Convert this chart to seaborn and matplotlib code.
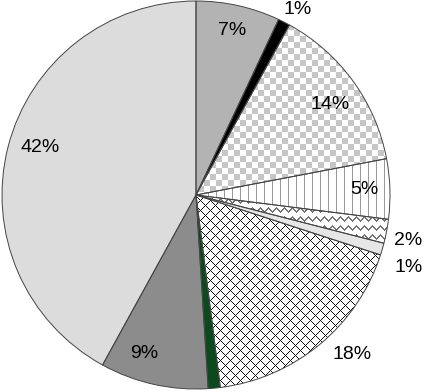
import matplotlib
matplotlib.use("Agg")
import matplotlib.pyplot as plt
import numpy as np
import seaborn as sns

# ----- data -------------------------------------------------------------------
SHARES = [7, 1, 14, 5, 2, 1, 18, 1, 9, 42]
LABELS = ["7%", "1%", "14%", "5%", "2%", "1%", "18%", "", "9%", "42%"]

# ----- style ------------------------------------------------------------------
FILLS = ["#b3b3b3", "#000000", "white", "white", "white", "#e6e6e6",
         "white", "#0b4a1c", "#8c8c8c", "#dcdcdc"]
TEXTURE = [None, None, "checker", "vlines", "zigzag", None, "diamond",
           None, None, None]
LABEL_R = [0.87, 1.09, 0.835, 0.866, 1.12, 1.16, 1.15, 0, 0.86, 0.84]
LABEL_SHIFT = [0.3, -1.6, -2.0, 0.2, -1.2, -2.7, 4.7, 0, -5.4, -2.6]

W, H = 425, 392
CX, CY, R = 196, 195, 194

sns.set_theme(style="white")
plt.rcParams["font.family"] = ["Liberation Sans", "DejaVu Sans"]


def texture(kind):
    yy, xx = np.mgrid[0:H, 0:W]
    img = np.ones((H, W, 4))
    if kind == "checker":
        mask = ((xx // 6) + (yy // 6)) % 2 == 0
        col = (0.78, 0.78, 0.78)
    elif kind == "vlines":
        mask = xx % 8 == 0
        col = (0.6, 0.6, 0.6)
    elif kind == "zigzag":
        tri = np.abs((xx % 8) - 4)
        mask = ((yy - tri) % 9) < 2
        col = (0.45, 0.45, 0.45)
    else:  # diamond crosshatch
        mask = ((xx + yy) % 10 == 0) | ((xx - yy) % 10 == 0)
        col = (0.05, 0.05, 0.05)
    img[mask, :3] = col
    return img


fig = plt.figure(figsize=(W / 100, H / 100), dpi=100)
ax = fig.add_axes([0, 0, 1, 1])

wedges, _ = ax.pie(SHARES, colors=FILLS, startangle=90, counterclock=False,
                   radius=1.0, wedgeprops=dict(linewidth=0))

x0, x1 = -CX / R, (W - CX) / R
y0, y1 = -(H - CY) / R, CY / R
for w, kind in zip(wedges, TEXTURE):
    if kind is None:
        continue
    im = ax.imshow(texture(kind), extent=(x0, x1, y0, y1), origin="upper",
                   interpolation="nearest", zorder=2)
    im.set_clip_path(w)

# outlines on top of the textures
ax.pie(SHARES, colors=["none"] * len(SHARES), startangle=90, counterclock=False,
       radius=1.0, wedgeprops=dict(linewidth=0.7, edgecolor="#444444", zorder=3))

for w, lab, r, sh in zip(wedges, LABELS, LABEL_R, LABEL_SHIFT):
    if not lab:
        continue
    ang = np.deg2rad((w.theta1 + w.theta2) / 2 + sh)
    ax.text(r * np.cos(ang), r * np.sin(ang), lab, ha="center", va="center",
            fontsize=14, color="black", zorder=4)

ax.set_xlim(x0, x1)
ax.set_ylim(y0, y1)
ax.set_aspect("auto")
ax.axis("off")

fig.savefig("out.png", dpi=100, facecolor="white")
